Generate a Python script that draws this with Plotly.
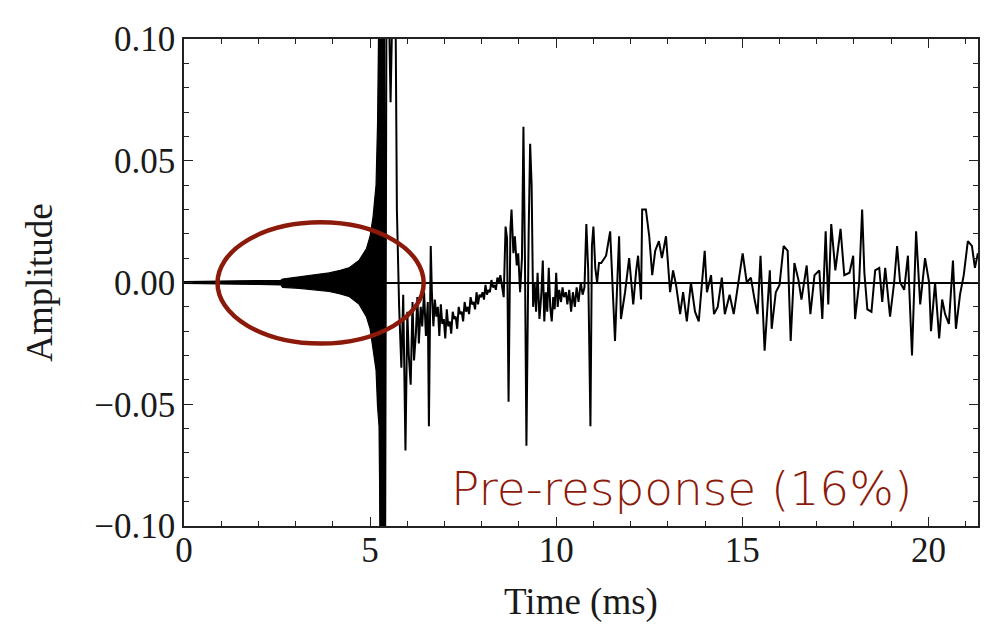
import plotly.graph_objects as go

# Pre-ringing envelope (dense oscillation drawn as a filled band)
env_t  = [0.0, 1.0, 2.0, 2.6, 2.65, 3.1, 3.5, 3.9, 4.2, 4.43, 4.7, 4.9, 5.0, 5.08, 5.16, 5.2, 5.24, 5.28]
env_hi = [0.0004, 0.0005, 0.0007, 0.0009, 0.0014, 0.0024, 0.0030, 0.0040, 0.0050, 0.0060, 0.0090,
          0.0138, 0.0190, 0.027, 0.040, 0.065, 0.12, 0.12]
env_lo = [-0.0004, -0.0005, -0.0008, -0.0010, -0.0020, -0.0024, -0.0030, -0.0037, -0.0047, -0.0057,
          -0.0088, -0.0140, -0.0190, -0.027, -0.036, -0.051, -0.059, -0.12]

# Main impulse and post-response (time in ms, amplitude)
sig_t = [5.20, 5.22, 5.25, 5.28, 5.31, 5.34, 5.37, 5.40, 5.44, 5.48, 5.52, 5.55, 5.62, 5.68, 5.72,
         5.78, 5.84, 5.89, 5.95, 6.00, 6.04, 6.09, 6.14, 6.18, 6.23, 6.27, 6.31, 6.36, 6.40, 6.45,
         6.50, 6.55, 6.58, 6.63,
         6.66, 6.70, 6.74, 6.78, 6.82, 6.86, 6.90, 6.94, 6.98, 7.02, 7.06, 7.10, 7.14, 7.18, 7.22,
         7.26, 7.30, 7.34, 7.38, 7.42, 7.46, 7.50, 7.54, 7.58, 7.62, 7.66, 7.70, 7.74, 7.78, 7.82,
         7.86, 7.90, 7.94, 7.98, 8.02, 8.06, 8.10, 8.14, 8.18, 8.22, 8.26, 8.30, 8.34, 8.38, 8.42,
         8.46, 8.50, 8.54, 8.59,
         8.64, 8.68, 8.72, 8.77, 8.80, 8.85, 8.89, 8.94,
         8.98, 9.03, 9.08, 9.12, 9.16, 9.20, 9.26, 9.30, 9.34, 9.38, 9.42, 9.46, 9.50, 9.55, 9.60,
         9.64, 9.68, 9.72, 9.76, 9.80, 9.84, 9.88, 9.92, 9.96, 10.00, 10.04, 10.08, 10.13, 10.17,
         10.21, 10.26, 10.30, 10.35, 10.40, 10.45, 10.50, 10.55, 10.60, 10.66, 10.71, 10.76, 10.81,
         10.86, 10.92, 10.96, 11.00, 11.05, 11.10, 11.15, 11.21, 11.34, 11.45, 11.58, 11.69, 11.74,
         11.85, 11.96, 12.07, 12.15, 12.20, 12.28, 12.31, 12.41, 12.50, 12.58, 12.66, 12.76, 12.84,
         12.95, 13.06, 13.14, 13.22, 13.33, 13.41, 13.51, 13.62, 13.73, 13.83, 13.99, 14.05, 14.16,
         14.24, 14.34, 14.45, 14.53, 14.66, 14.77, 14.88, 15.01, 15.12, 15.23, 15.33, 15.41, 15.49,
         15.60, 15.74, 15.79, 15.90, 16.00, 16.11, 16.22, 16.30, 16.40, 16.51, 16.59, 16.73, 16.83,
         16.94, 17.07, 17.15, 17.24, 17.31, 17.39, 17.50, 17.64, 17.74, 17.88, 17.98, 18.03, 18.14,
         18.22, 18.28, 18.36, 18.47, 18.57, 18.68, 18.76, 18.84, 18.97, 19.08, 19.16, 19.24, 19.35,
         19.45, 19.56, 19.67, 19.78, 19.91, 20.02, 20.07, 20.18, 20.29, 20.37, 20.45, 20.55, 20.66,
         20.74, 20.85, 20.95, 21.06, 21.17, 21.25, 21.33]
sig_y = [0.04, -0.05, 0.12, -0.13, 0.15, -0.15, 0.14, -0.14, 0.12, 0.13, 0.10, 0.074, 0.13, 0.12, 0.03,
         -0.010, -0.035, -0.005, -0.069, -0.012, -0.030, -0.042, -0.008, -0.032, -0.021, -0.006, -0.025,
         -0.010, -0.018, -0.004, -0.022, -0.008, -0.059, 0.015,
         -0.004, -0.018, -0.007, -0.014, -0.010, -0.022, -0.009, -0.017, -0.015, -0.023, -0.011, -0.018,
         -0.016, -0.021, -0.012, -0.015, -0.014, -0.019, -0.010, -0.013, -0.012, -0.016, -0.008, -0.012,
         -0.010, -0.013, -0.006, -0.009, -0.008, -0.011, -0.004, -0.009, -0.005, -0.006, -0.004, -0.007,
         -0.001, -0.005, -0.003, -0.004, 0.001, -0.002, -0.001, -0.003, 0.002, 0.000, 0.003, -0.001, -0.006,
         0.023, 0.018, -0.049, 0.022, 0.030, 0.012, 0.019, 0.007,
         0.012, -0.004, 0.010, 0.064, 0.010, -0.067, 0.020, 0.057, 0.040, -0.010, 0.000, -0.012, 0.004,
         -0.015, -0.005, 0.009, -0.016, -0.004, -0.012, 0.006, -0.010, -0.016, -0.006, -0.011, 0.004,
         -0.010, -0.003, -0.008, -0.002, -0.006, -0.004, -0.009, -0.003, -0.012, -0.004, -0.010, -0.002,
         -0.008, 0.000, -0.005, -0.002, 0.024, 0.005, -0.059, 0.015, 0.023, 0.006, 0.000, 0.008, 0.008,
         0.011, 0.021, -0.024, 0.019, -0.015, -0.004, 0.010, -0.009, 0.005, 0.011, -0.007, 0.030, 0.030,
         0.019, 0.003, 0.013, 0.017, 0.010, 0.019, -0.004, 0.005, -0.001, -0.013, -0.004, -0.016, 0.000,
         -0.012, -0.016, 0.013, -0.004, 0.003, -0.013, -0.010, 0.002, -0.013, -0.005, -0.013, -0.002,
         0.012, 0.000, 0.002, -0.007, -0.013, 0.011, -0.028, 0.005, -0.019, -0.004, -0.001, 0.015, 0.013,
         -0.024, 0.008, 0.001, -0.007, 0.007, -0.013, 0.003, 0.005, -0.015, 0.021, -0.009, 0.024, 0.005,
         0.022, 0.003, 0.004, 0.011, -0.015, 0.000, 0.030, 0.004, -0.011, -0.012, 0.005, 0.006, -0.008,
         0.006, -0.014, 0.000, 0.015, 0.000, -0.003, 0.011, -0.030, 0.021, -0.009, 0.010, 0.000, -0.020,
         0.000, -0.023, -0.007, -0.013, -0.017, 0.009, -0.019, -0.005, 0.003, 0.017, 0.015, 0.006, 0.012]

x_ticks = [0, 5, 10, 15, 20]
y_ticks = [-0.10, -0.05, 0.00, 0.05, 0.10]
y_tick_text = ["\u22120.10", "\u22120.05", "0.00", "0.05", "0.10"]

# Highlighted region (ellipse) and label
ell_x = [0.90, 6.44]
ell_y = [-0.0251, 0.0247]
label_text = "Pre-response (16%)"

RED = "#8C1A0B"
SERIF = "Liberation Serif"

fig = go.Figure()
fig.add_trace(go.Scatter(x=env_t, y=env_hi, mode="lines", line=dict(color="black", width=1.2),
                         showlegend=False, hoverinfo="skip"))
fig.add_trace(go.Scatter(x=env_t, y=env_lo, mode="lines", line=dict(color="black", width=1.2),
                         fill="tonexty", fillcolor="black", showlegend=False, hoverinfo="skip"))
fig.add_trace(go.Scatter(x=sig_t, y=sig_y, mode="lines", line=dict(color="black", width=2),
                         showlegend=False))

fig.add_shape(type="circle", xref="x", yref="y", x0=ell_x[0], x1=ell_x[1], y0=ell_y[0], y1=ell_y[1],
              line=dict(color=RED, width=4.5))

fig.add_annotation(x=0.919, y=0.078, xref="paper", yref="paper", xanchor="right", yanchor="middle",
                   text=label_text, showarrow=False,
                   font=dict(family="DejaVu Sans", size=47, color=RED, weight=200))

axis_common = dict(showline=True, linecolor="#222", linewidth=1.6, mirror="allticks",
                   ticks="inside", ticklen=9, tickwidth=1.3, tickcolor="#222",
                   showgrid=False,
                   tickfont=dict(family=SERIF, size=35, color="#1a1a1a"))

fig.update_xaxes(range=[0, 21.333], tickvals=x_ticks, ticktext=[str(v) for v in x_ticks],
                 zeroline=False, ticklabelstandoff=-8,
                 minor=dict(dtick=1, ticklen=5, tickwidth=1.2, tickcolor="#222", ticks="inside"),
                 title=dict(text="Time (ms)", font=dict(family=SERIF, size=37, color="#1a1a1a"),
                            standoff=19),
                 **axis_common)
fig.update_yaxes(range=[-0.10, 0.10], tickvals=y_ticks, ticktext=y_tick_text,
                 zeroline=True, zerolinecolor="black", zerolinewidth=1.8,
                 minor=dict(dtick=0.01, ticklen=5, tickwidth=1.2, tickcolor="#222", ticks="inside"),
                 title=dict(text="Amplitude", font=dict(family=SERIF, size=37, color="#1a1a1a"),
                            standoff=30),
                 **axis_common)

fig.update_layout(width=984, height=619, margin=dict(l=176, r=12, t=25, b=100),
                  plot_bgcolor="white", paper_bgcolor="white")

fig.write_html("out.html")
